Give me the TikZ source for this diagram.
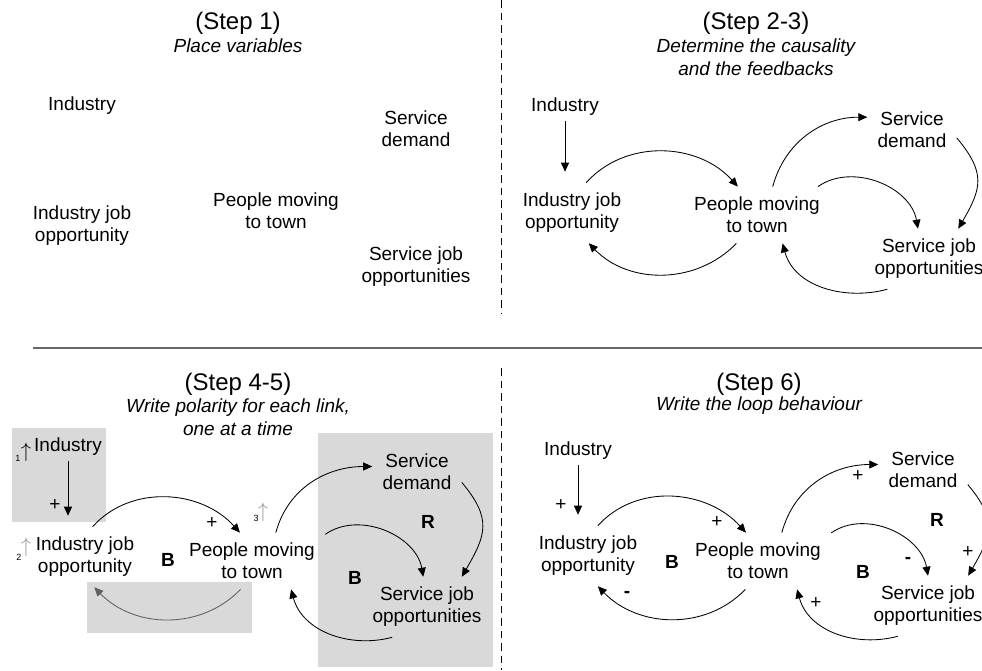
\documentclass[tikz,border=0pt]{standalone}
\usepackage{fontspec}
\setmainfont{Liberation Sans}
\usepackage{xcolor}
\usepackage{tikz}
\usetikzlibrary{arrows.meta}
\definecolor{boxgray}{RGB}{217,217,217}
\definecolor{linkgray}{RGB}{95,95,95}
\definecolor{markgray}{RGB}{150,150,150}
\definecolor{rulegray}{RGB}{105,105,105}
\tikzset{
    varnode/.style = {align=center, inner sep=10pt, font=\fontsize{19}{22}\selectfont},
    stepnode/.style = {align=center, inner sep=0pt, font=\fontsize{24}{28}\selectfont},
    hintnode/.style = {align=center, inner sep=0pt, font=\fontsize{19}{23}\selectfont\itshape},
    signnode/.style = {inner sep=0pt, font=\fontsize{19}{22}\selectfont},
    loopnode/.style = {inner sep=0pt, font=\fontsize{19}{22}\selectfont\bfseries},
    ordnode/.style = {inner sep=0pt, font=\fontsize{9}{9}\selectfont},
    upnode/.style = {inner sep=0pt, font=\fontsize{20}{20}\selectfont},
}
\begin{document}
\begin{tikzpicture}[
	x=1pt, y=1pt,
	line width=0.85pt
]
\tikzset{
    edgeb/.style = {-{Triangle[length=9pt,width=8pt]},black},
    edgeg/.style = {-{Triangle[length=9pt,width=8pt]},linkgray},
    edgev/.style = {edgeb, shorten <=-5pt, shorten >=11pt}
}
\useasboundingbox (0,0) rectangle (982,-670);
%
\draw[rulegray, line width=1.5pt] (33,-348) -- (982,-348);
\draw[dash pattern=on 7.5pt off 5pt] (501,0) -- (501,-313);
\draw[dash pattern=on 7.5pt off 5pt] (501,-368) -- (501,-670);
%
% (Step 1)
\node[stepnode] (t1) at (238,-23) {(Step 1)};
\node[hintnode] (h1) at (238,-46) {Place variables};
\node[varnode] (ind1) at (82,-106) {Industry};
\node[varnode] (sd1) at (416,-129) {Service\\demand};
\node[varnode] (pm1) at (276,-211) {People moving\\to town};
\node[varnode] (ij1) at (82,-226) {Industry job\\opportunity};
\node[varnode] (sj1) at (416,-267) {Service job\\opportunities};
%
% (Step 2-3)
\node[stepnode] (t2) at (756,-23) {(Step 2-3)};
\node[hintnode] (h2) at (756,-57) {Determine the causality\\and the feedbacks};
\node[varnode] (ind2) at (565,-107) {Industry};
\node[varnode] (ij2) at (572,-213) {Industry job\\opportunity};
\node[varnode] (pm2) at (757,-215) {People moving\\to town};
\node[varnode] (sd2) at (912,-130) {Service\\demand};
\node[varnode] (sj2) at (929,-259) {Service job\\opportunities};
\draw[edgev] (ind2.south) -- (ind2.south |- ij2.north);
\draw[edgeb] (ij2.65) to[out=48,in=132] (pm2.124);
\draw[edgeb] (pm2.234) to[out=226,in=314] (ij2.299);
\draw[edgeb] (pm2.61) to[out=75,in=180] (sd2.164);
\draw[edgeb] (sd2.350) to[out=-50,in=60,looseness=1.3] (sj2.46);
\draw[edgeb] (pm2.25) to[out=35,in=100] (sj2.110);
\draw[edgeb] (sj2.216) to[out=195,in=285] (pm2.312);
%
% (Step 4-5)
\fill[boxgray] (12,-428) rectangle (106,-522);
\fill[boxgray] (87,-582) rectangle (252,-633);
\fill[boxgray] (318,-433) rectangle (493,-667);
\node[stepnode] (t3) at (238,-384) {(Step 4-5)};
\node[hintnode] (h3) at (238,-417) {Write polarity for each link,\\one at a time};
\node[varnode] (ind3) at (68,-447) {Industry};
\node[varnode] (ij3) at (85,-557) {Industry job\\opportunity};
\node[varnode] (pm3) at (252,-561) {People moving\\to town};
\node[varnode] (sd3) at (417,-472) {Service\\demand};
\node[varnode] (sj3) at (427,-607) {Service job\\opportunities};
\node[ordnode] (o1) at (18,-458) {1};
\node[upnode] (u1) at (26,-452) {$\uparrow$};
\node[ordnode] (o2) at (19,-557) {2};
\node[upnode, text=markgray] (u2) at (26,-547) {$\uparrow$};
\node[ordnode] (o3) at (256,-518) {3};
\node[upnode, text=markgray] (u3) at (263,-512) {$\uparrow$};
\draw[edgev] (ind3.south) -- (ind3.south |- ij3.north);
\draw[edgeb] (ij3.76) to[out=48,in=132] (pm3.113);
\draw[edgeg] (pm3.248) to[out=226,in=314] (ij3.287);
\draw[edgeb] (pm3.50) to[out=75,in=180] (sd3.173);
\draw[edgeb] (sd3.347) to[out=-50,in=60,looseness=1.3] (sj3.41);
\draw[edgeb] (pm3.20) to[out=35,in=100] (sj3.97);
\draw[edgeb] (sj3.221) to[out=195,in=285] (pm3.324);
\node[signnode] (s31) at (55,-505) {+};
\node[signnode] (s32) at (212,-523) {+};
\node[loopnode] (b31) at (168,-560) {B};
\node[loopnode] (r31) at (428,-522) {R};
\node[loopnode] (b32) at (355,-578) {B};
%
% (Step 6)
\node[stepnode] (t4) at (759,-384) {(Step 6)};
\node[hintnode] (h4) at (759,-406) {Write the loop behaviour};
\node[varnode] (ind4) at (578,-451) {Industry};
\node[varnode] (ij4) at (588,-556) {Industry job\\opportunity};
\node[varnode] (pm4) at (758,-561) {People moving\\to town};
\node[varnode] (sd4) at (923,-470) {Service\\demand};
\node[varnode] (sj4) at (928,-606) {Service job\\opportunities};
\draw[edgev] (ind4.south) -- (ind4.south |- ij4.north);
\draw[edgeb] (ij4.72) to[out=48,in=132] (pm4.113);
\draw[edgeb] (pm4.246) to[out=226,in=314] (ij4.288);
\draw[edgeb] (pm4.50) to[out=75,in=180] (sd4.173);
\draw[edgeb] (sd4.342) to[out=-50,in=60,looseness=1.3] (sj4.37);
\draw[edgeb] (pm4.21) to[out=35,in=100] (sj4.90);
\draw[edgeb] (sj4.225) to[out=195,in=285] (pm4.324);
\node[signnode] (s41) at (561,-505) {+};
\node[signnode] (s42) at (717,-522) {+};
\node[signnode] (s43) at (627,-594) {\textbf{-}};
\node[signnode] (s44) at (858,-476) {+};
\node[signnode] (s45) at (968,-552) {+};
\node[signnode] (s46) at (908,-560) {\textbf{-}};
\node[signnode] (s47) at (816,-603) {+};
\node[loopnode] (b41) at (672,-562) {B};
\node[loopnode] (r41) at (937,-520) {R};
\node[loopnode] (b42) at (863,-572) {B};
\end{tikzpicture}
\end{document}
